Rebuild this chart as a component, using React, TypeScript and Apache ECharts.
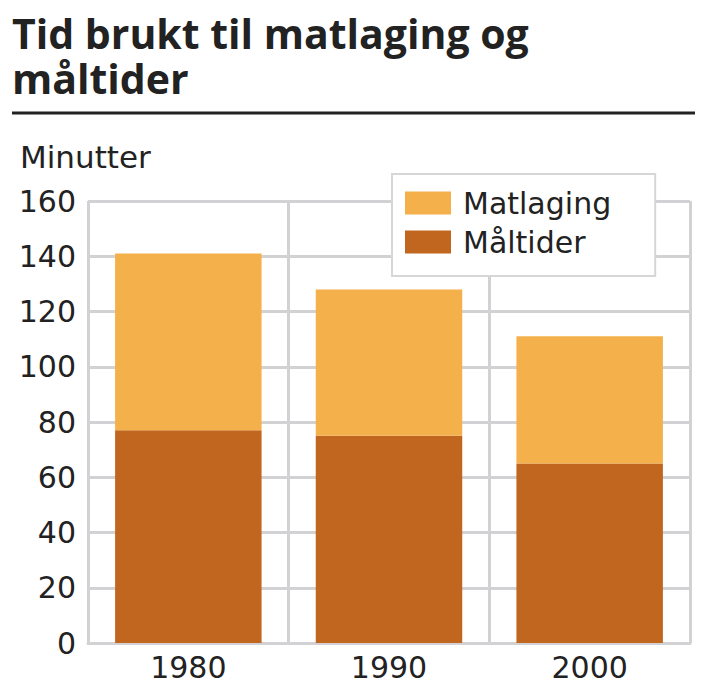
import React, { useEffect, useRef } from "react";
import * as echarts from "echarts";

const titleLines = ["Tid brukt til matlaging og", "måltider"];
const unitLabel = "Minutter";
const categories = ["1980", "1990", "2000"];
const maltider = [77, 75, 65];
const matlaging = [64, 53, 46];
const seriesNames = ["Måltider", "Matlaging"];
const legendOrder = ["Matlaging", "Måltider"];

const TITLE_FONT = "'Open Sans', 'DejaVu Sans', sans-serif";
const FONT = "'DejaVu Sans', 'Open Sans', sans-serif";
const GRID = "#d2d2d4";
const INK = "#222222";

export default function App() {
  const ref = useRef<HTMLDivElement>(null);
  useEffect(() => {
    if (!ref.current) return;
    const chart = echarts.init(ref.current, null, { renderer: "svg" });
    chart.setOption({
      animation: false,
      backgroundColor: "#ffffff",
      textStyle: { fontFamily: FONT },
      graphic: [
        {
          type: "text",
          x: 12,
          y: 33,
          style: {
            text: titleLines[0],
            font: `bold 41px ${TITLE_FONT}`,
            lineHeight: 41,
            verticalAlign: "middle",
            fill: INK,
          },
        },
        {
          type: "text",
          x: 12,
          y: 78,
          style: {
            text: titleLines[1],
            font: `bold 41px ${TITLE_FONT}`,
            lineHeight: 41,
            verticalAlign: "middle",
            fill: INK,
          },
        },
        {
          type: "line",
          shape: { x1: 12, y1: 113, x2: 695, y2: 113 },
          style: { stroke: INK, lineWidth: 3 },
        },
        {
          type: "text",
          x: 20,
          y: 157,
          style: {
            text: unitLabel,
            font: `31px ${FONT}`,
            verticalAlign: "middle",
            fill: INK,
          },
        },
      ],
      legend: {
        data: legendOrder,
        orient: "vertical",
        left: 392,
        top: 174,
        itemWidth: 46,
        itemHeight: 23,
        itemGap: 9,
        padding: [14, 44, 19, 13],
        backgroundColor: "#ffffff",
        borderColor: "#d6d6d8",
        borderWidth: 2,
        borderRadius: 0,
        icon: "rect",
        textStyle: {
          fontFamily: FONT,
          fontSize: 30,
          color: INK,
          lineHeight: 30,
          padding: [0, 0, 0, 7],
        },
        z: 10,
      },
      grid: { left: 88, right: 16, top: 201, bottom: 57, containLabel: false },
      xAxis: {
        type: "category",
        data: categories,
        boundaryGap: true,
        axisLine: { show: true, lineStyle: { color: GRID, width: 3 } },
        axisTick: { show: false },
        splitLine: {
          show: true,
          showMinLine: true,
          showMaxLine: true,
          lineStyle: { color: GRID, width: 3 },
        },
        axisLabel: { fontSize: 30, color: INK, margin: 9, fontFamily: FONT },
      },
      yAxis: {
        type: "value",
        min: 0,
        max: 160,
        interval: 20,
        axisLine: { show: false },
        axisTick: { show: false },
        splitLine: { show: true, lineStyle: { color: GRID, width: 3 } },
        axisLabel: { fontSize: 30, color: INK, margin: 12, fontFamily: FONT },
      },
      series: [
        {
          name: seriesNames[0],
          type: "bar",
          stack: "total",
          data: maltider,
          barWidth: "73%",
          itemStyle: { color: "#c1661f" },
        },
        {
          name: seriesNames[1],
          type: "bar",
          stack: "total",
          data: matlaging,
          barWidth: "73%",
          itemStyle: { color: "#f4b04b" },
        },
      ],
    });
    return () => chart.dispose();
  }, []);
  return (
    <div
      ref={ref}
      style={{ position: "absolute", left: 0, top: 0, width: 706, height: 700 }}
    />
  );
}
